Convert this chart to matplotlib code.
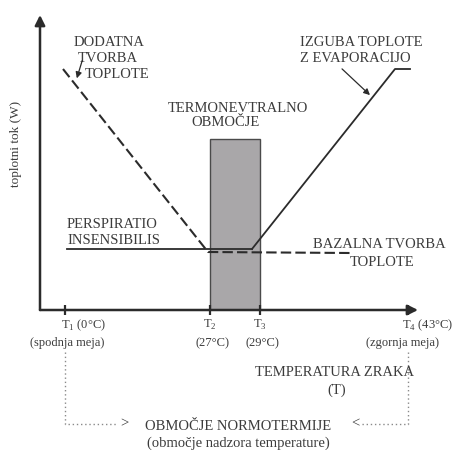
import matplotlib
matplotlib.use("Agg")
import matplotlib.pyplot as plt
from matplotlib.patches import Rectangle

plt.rcParams["font.family"] = ["Liberation Serif", "DejaVu Serif"]
plt.rcParams["mathtext.fontset"] = "custom"
plt.rcParams["mathtext.rm"] = "Liberation Serif"

INK = "#2b2b2b"
TEXT = "#3c3c3c"

# schematic positions of the temperature marks on the x axis
t_pos = [25, 170, 220, 368]
t_names = [r"T$_\mathrm{1}$ (0°C)", r"T$_\mathrm{2}$", r"T$_\mathrm{3}$", r"T$_\mathrm{4}$ (43°C)"]
t_notes = ["(spodnja meja)", "(27°C)", "(29°C)", "(zgornja meja)"]

# thermoneutral zone
zone_x = [170, 220]
zone_top = 171

# heat flow curves (schematic units)
insensibilis_x = [27, 212]
insensibilis_y = [61, 61]
evap_x = [212, 355, 370]
evap_y = [61, 241, 241]
extra_x = [23, 168, 310]
extra_y = [241, 58, 57]

fig = plt.figure(figsize=(4.53, 4.50), dpi=100)
ax = fig.add_axes([40 / 453, 140 / 450, 378 / 453, 295 / 450])
ax.set_xlim(0, 378)
ax.set_ylim(0, 295)
for side in ["top", "right", "left", "bottom"]:
    ax.spines[side].set_visible(False)
ax.set_yticks([])
ax.set_xticks(t_pos)
ax.set_xticklabels([])
ax.tick_params(axis="x", direction="inout", length=7, width=1.6, color=INK)

# axes with arrow heads
arrow = dict(arrowstyle="-|>", color=INK, lw=1.8, mutation_scale=15, shrinkA=0, shrinkB=0)
ax.annotate("", xy=(0, 295), xytext=(0, 0), arrowprops=arrow, annotation_clip=False)
ax.annotate("", xy=(378, 0), xytext=(0, 0), arrowprops=arrow, annotation_clip=False)

ax.add_patch(Rectangle((zone_x[0], 0), zone_x[1] - zone_x[0], zone_top,
                       facecolor="#a9a7a9", edgecolor="#4a4a4a", lw=1.0, zorder=1))

ax.plot(insensibilis_x, insensibilis_y, color=INK, lw=1.3, zorder=3)
ax.plot(evap_x, evap_y, color=INK, lw=1.3, zorder=3)
ax.plot(extra_x, extra_y, color=INK, lw=1.5, ls=(0, (5, 2)), zorder=3)

fs = 10.5
ax.text(69, 268, "DODATNA", ha="center", va="center", fontsize=fs, color=TEXT)
ax.text(68, 251, "TVORBA", ha="center", va="center", fontsize=fs, color=TEXT)
ax.text(77, 235, "TOPLOTE", ha="center", va="center", fontsize=fs, color=TEXT)
ax.annotate("", xy=(36, 229), xytext=(43, 252),
            arrowprops=dict(arrowstyle="-|>", color=INK, lw=0.9, mutation_scale=9))

ax.text(260, 268, "IZGUBA TOPLOTE", ha="left", va="center", fontsize=fs, color=TEXT)
ax.text(260, 252, "Z EVAPORACIJO", ha="left", va="center", fontsize=fs, color=TEXT)
ax.annotate("", xy=(332, 213), xytext=(300, 243),
            arrowprops=dict(arrowstyle="-|>", color=INK, lw=0.9, mutation_scale=9))

ax.text(198, 201, "TERMONEVTRALNO", ha="center", va="center", fontsize=fs, color=TEXT)
ax.text(185, 187, "OBMOČJE", ha="center", va="center", fontsize=fs, color=TEXT)

ax.text(27, 85, "PERSPIRATIO", ha="left", va="center", fontsize=fs, color=TEXT)
ax.text(27, 69, "INSENSIBILIS", ha="left", va="center", fontsize=fs, color=TEXT)

ax.text(273, 65, "BAZALNA TVORBA", ha="left", va="center", fontsize=fs, color=TEXT)
ax.text(342, 48, "TOPLOTE", ha="center", va="center", fontsize=fs, color=TEXT)

ax.text(-24, 166, "toplotni tok (W)", rotation=90, ha="center", va="center",
        fontsize=9.5, color=TEXT)

# tick captions under the x axis
name_dx = [18, 0, 0, 20]
note_dx = [2, 2, 2, -6]
for pos, name, note, dn, dd in zip(t_pos, t_names, t_notes, name_dx, note_dx):
    ax.text(pos + dn, -15, name, ha="center", va="center", fontsize=9, color=TEXT, clip_on=False)
    ax.text(pos + dd, -33, note, ha="center", va="center", fontsize=9, color=TEXT, clip_on=False)

ax.text(295, -63, "TEMPERATURA ZRAKA", ha="center", va="center", fontsize=fs, color=TEXT, clip_on=False)
ax.text(297, -80, "(T)", ha="center", va="center", fontsize=fs, color=TEXT, clip_on=False)

# normothermic range bracket
dot = dict(color="#8a8a8a", lw=1.0, ls=(0, (1, 2)), clip_on=False)
ax.plot([t_pos[0], t_pos[0], 78], [-42, -114, -114], **dot)
ax.plot([t_pos[3], t_pos[3], 320], [-42, -114, -114], **dot)
ax.text(84, -114, ">", ha="center", va="center", fontsize=fs, color=TEXT, clip_on=False)
ax.text(315, -114, "<", ha="center", va="center", fontsize=fs, color=TEXT, clip_on=False)
ax.text(198, -116, "OBMOČJE NORMOTERMIJE", ha="center", va="center", fontsize=fs, color=TEXT, clip_on=False)
ax.text(198, -133, "(območje nadzora temperature)", ha="center", va="center", fontsize=fs,
        color=TEXT, clip_on=False)

fig.savefig("out.png", dpi=100)
